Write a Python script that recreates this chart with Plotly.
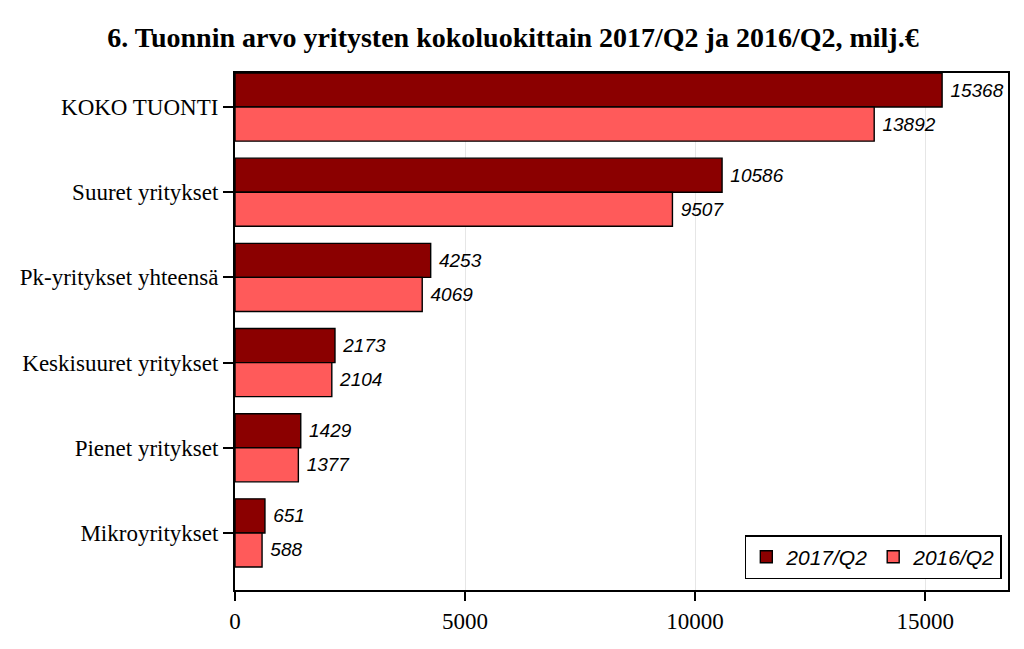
import plotly.graph_objects as go

categories = ["KOKO TUONTI", "Suuret yritykset", "Pk-yritykset yhteensä",
              "Keskisuuret yritykset", "Pienet yritykset", "Mikroyritykset"]
values_2017 = [15368, 10586, 4253, 2173, 1429, 651]
values_2016 = [13892, 9507, 4069, 2104, 1377, 588]
series_names = ["2017/Q2", "2016/Q2"]
tick_vals = [0, 5000, 10000, 15000]
tick_text = ["0", "5000", "10000", "15000"]

# page body has an 8px offset; the figure is sized to fill the rest of the window
W, H = 1016, 641

fig = go.Figure()
for name, vals, color in [(series_names[0], values_2017, "#8B0000"),
                          (series_names[1], values_2016, "#FF5A5A")]:
    fig.add_trace(go.Bar(
        y=categories, x=vals, name=name, orientation="h",
        marker=dict(color=color, line=dict(color="black", width=1.4)),
        text=[" " + str(v) for v in vals], textposition="outside",
        textfont=dict(family="Liberation Sans", size=19, color="black", style="italic"),
        cliponaxis=False,
    ))

fig.update_layout(
    width=W, height=H,
    barmode="group", bargap=0.2, bargroupgap=0,
    plot_bgcolor="white", paper_bgcolor="white",
    margin=dict(l=227, r=16, t=65, b=59),
    title=dict(text="<b>6. Tuonnin arvo yritysten kokoluokittain 2017/Q2 ja 2016/Q2, milj.€</b>",
               x=(513 - 8) / W, xanchor="center", y=1 - 29 / H, yanchor="middle",
               font=dict(family="Liberation Serif", size=28, color="black")),
    xaxis=dict(range=[0, 16800], tickvals=tick_vals, ticktext=tick_text, showgrid=True,
               gridcolor="#E6E6E6", gridwidth=1, zeroline=False, showline=True,
               linecolor="black", linewidth=2, mirror=True, ticks="outside", ticklen=9,
               tickcolor="black", tickwidth=1.5,
               tickfont=dict(family="Liberation Serif", size=23, color="black")),
    yaxis=dict(range=[5.67, -0.4], showgrid=False, showline=True, linecolor="black",
               linewidth=2, mirror=True, ticks="outside", ticklen=10, tickcolor="black",
               tickwidth=1.5,
               tickfont=dict(family="Liberation Serif", size=23, color="black")),
    legend=dict(orientation="h", x=0.992, xanchor="right", y=0.021, yanchor="bottom",
                bgcolor="white", bordercolor="black", borderwidth=1.5,
                font=dict(family="Liberation Sans", size=21, color="black", style="italic"),
                itemwidth=30, traceorder="normal", tracegroupgap=0),
    uniformtext=dict(minsize=19, mode="show"),
)

fig.write_html("out.html")
